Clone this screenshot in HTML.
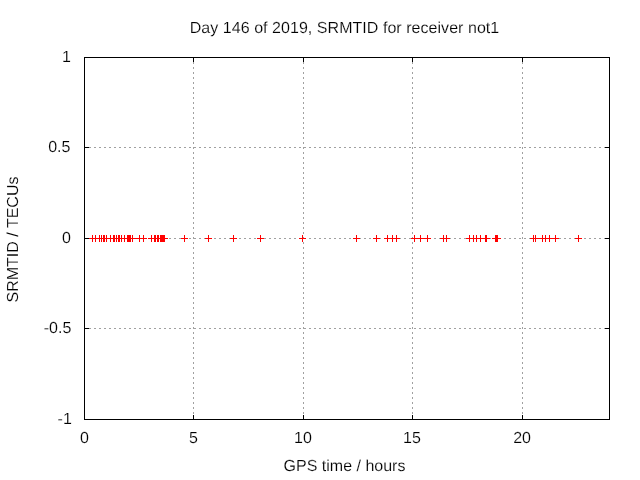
<!DOCTYPE html>
<html><head><meta charset="utf-8"><title>Day 146 of 2019, SRMTID for receiver not1</title>
<style>
html,body{margin:0;padding:0;background:#fff;}
body{width:640px;height:480px;overflow:hidden;}
svg{display:block;}
text{font-family:"Liberation Sans",Arial,sans-serif;font-size:16px;fill:#000;text-rendering:geometricPrecision;stroke:#fff;stroke-width:0.16px;}
</style></head><body>
<svg width="640" height="480" viewBox="0 0 640 480">
<rect x="0" y="0" width="640" height="480" fill="#fff"/>
<g shape-rendering="crispEdges" stroke="#a0a0a0" stroke-width="1" stroke-dasharray="2 3" fill="none">
<line x1="84" y1="147.5" x2="610" y2="147.5"/>
<line x1="84" y1="238.5" x2="610" y2="238.5"/>
<line x1="84" y1="328.5" x2="610" y2="328.5"/>
<line x1="193.5" y1="57" x2="193.5" y2="420"/>
<line x1="303.5" y1="57" x2="303.5" y2="420"/>
<line x1="412.5" y1="57" x2="412.5" y2="420"/>
<line x1="522.5" y1="57" x2="522.5" y2="420"/>
</g>
<g shape-rendering="crispEdges" fill="#ff0000">
<rect x="89" y="238" width="58" height="1"/>
<rect x="148" y="238" width="20" height="1"/>
<rect x="181" y="238" width="7" height="1"/>
<rect x="205" y="238" width="7" height="1"/>
<rect x="230" y="238" width="7" height="1"/>
<rect x="257" y="238" width="7" height="1"/>
<rect x="299" y="238" width="7" height="1"/>
<rect x="353" y="238" width="7" height="1"/>
<rect x="373" y="238" width="7" height="1"/>
<rect x="384" y="238" width="16" height="1"/>
<rect x="411" y="238" width="20" height="1"/>
<rect x="440" y="238" width="10" height="1"/>
<rect x="466" y="238" width="24" height="1"/>
<rect x="492" y="238" width="9" height="1"/>
<rect x="530" y="238" width="29" height="1"/>
<rect x="575" y="238" width="7" height="1"/>
<rect x="92" y="235" width="1" height="7"/>
<rect x="95" y="235" width="1" height="7"/>
<rect x="99" y="235" width="1" height="7"/>
<rect x="101" y="235" width="1" height="7"/>
<rect x="103" y="235" width="2" height="7"/>
<rect x="106" y="235" width="1" height="7"/>
<rect x="110" y="235" width="1" height="7"/>
<rect x="113" y="235" width="2" height="7"/>
<rect x="116" y="235" width="1" height="7"/>
<rect x="118" y="235" width="2" height="7"/>
<rect x="121" y="235" width="1" height="7"/>
<rect x="124" y="235" width="1" height="7"/>
<rect x="127" y="235" width="4" height="7"/>
<rect x="132" y="235" width="1" height="7"/>
<rect x="139" y="235" width="1" height="7"/>
<rect x="143" y="235" width="1" height="7"/>
<rect x="151" y="235" width="1" height="7"/>
<rect x="154" y="235" width="2" height="7"/>
<rect x="157" y="235" width="2" height="7"/>
<rect x="160" y="235" width="5" height="7"/>
<rect x="184" y="235" width="1" height="7"/>
<rect x="208" y="235" width="1" height="7"/>
<rect x="233" y="235" width="1" height="7"/>
<rect x="260" y="235" width="1" height="7"/>
<rect x="302" y="235" width="1" height="7"/>
<rect x="356" y="235" width="1" height="7"/>
<rect x="376" y="235" width="1" height="7"/>
<rect x="387" y="235" width="1" height="7"/>
<rect x="392" y="235" width="1" height="7"/>
<rect x="396" y="235" width="1" height="7"/>
<rect x="414" y="235" width="1" height="7"/>
<rect x="420" y="235" width="1" height="7"/>
<rect x="427" y="235" width="1" height="7"/>
<rect x="443" y="235" width="1" height="7"/>
<rect x="446" y="235" width="1" height="7"/>
<rect x="469" y="235" width="1" height="7"/>
<rect x="473" y="235" width="1" height="7"/>
<rect x="476" y="235" width="1" height="7"/>
<rect x="480" y="235" width="1" height="7"/>
<rect x="485" y="235" width="2" height="7"/>
<rect x="495" y="235" width="3" height="7"/>
<rect x="533" y="235" width="1" height="7"/>
<rect x="535" y="235" width="1" height="7"/>
<rect x="542" y="235" width="1" height="7"/>
<rect x="545" y="235" width="1" height="7"/>
<rect x="549" y="235" width="1" height="7"/>
<rect x="555" y="235" width="1" height="7"/>
<rect x="578" y="235" width="1" height="7"/>
</g>
<g shape-rendering="crispEdges" fill="#000">
<rect x="84" y="57" width="526" height="1"/>
<rect x="84" y="419" width="526" height="1"/>
<rect x="84" y="57" width="1" height="363"/>
<rect x="609" y="57" width="1" height="363"/>
<rect x="84" y="147" width="5" height="1"/>
<rect x="605" y="147" width="5" height="1"/>
<rect x="84" y="238" width="5" height="1"/>
<rect x="605" y="238" width="5" height="1"/>
<rect x="84" y="328" width="5" height="1"/>
<rect x="605" y="328" width="5" height="1"/>
<rect x="193" y="57" width="1" height="5"/>
<rect x="193" y="415" width="1" height="5"/>
<rect x="303" y="57" width="1" height="5"/>
<rect x="303" y="415" width="1" height="5"/>
<rect x="412" y="57" width="1" height="5"/>
<rect x="412" y="415" width="1" height="5"/>
<rect x="522" y="57" width="1" height="5"/>
<rect x="522" y="415" width="1" height="5"/>
</g>
<text x="344.5" y="33" text-anchor="middle" textLength="309.5" lengthAdjust="spacing">Day 146 of 2019, SRMTID for receiver not1</text>
<text x="71" y="62" text-anchor="end">1</text>
<text x="70.4" y="152" text-anchor="end">0.5</text>
<text x="71" y="243" text-anchor="end">0</text>
<text x="71.3" y="333" text-anchor="end">-0.5</text>
<text x="71.8" y="424" text-anchor="end">-1</text>
<text x="84.5" y="443" text-anchor="middle">0</text>
<text x="193.5" y="443" text-anchor="middle">5</text>
<text x="303.0" y="443" text-anchor="middle">10</text>
<text x="411.9" y="443" text-anchor="middle">15</text>
<text x="522.1" y="443" text-anchor="middle">20</text>
<text x="344.5" y="471" text-anchor="middle">GPS time / hours</text>
<text transform="translate(18,239.5) rotate(-90)" text-anchor="middle">SRMTID / TECUs</text>
</svg></body></html>
